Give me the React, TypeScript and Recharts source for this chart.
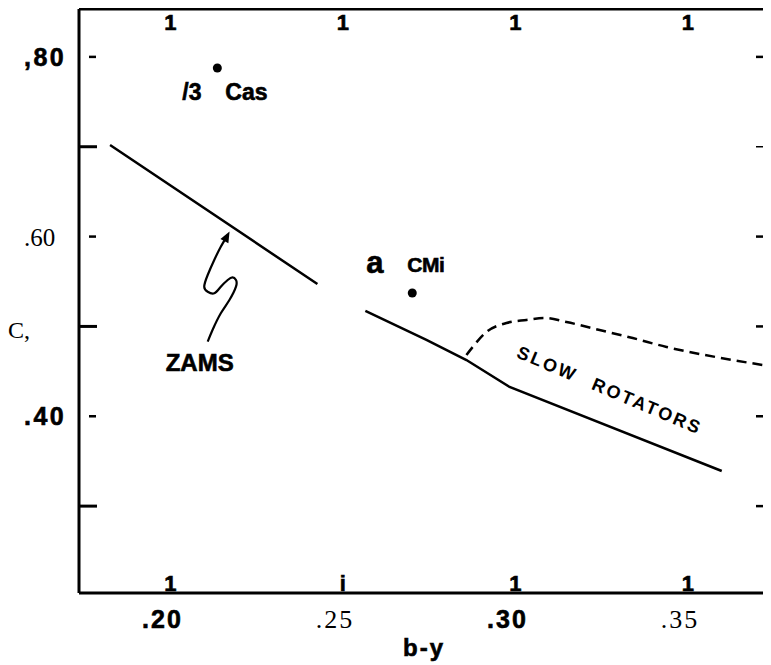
import React from "react";
import {
  ComposedChart,
  Line,
  Scatter,
  XAxis,
  YAxis,
  ReferenceDot,
  ReferenceLine,
} from "recharts";

// ---- axis ticks ----
const xTicks = [0.2, 0.25, 0.3, 0.35];
const xTickLabels = [".20", ".25", ".30", ".35"];
const xTopMarks = ["1", "1", "1", "1"];
const xBottomMarks = ["1", "i", "1", "1"];
const yTicks = [0.3, 0.4, 0.5, 0.6, 0.7, 0.8];
const yTickLabels = ["", ".40", "", ".60", "", ",80"];
const xDomain = [0.1735, 0.3735];
const yDomain = [0.2033, 0.8533];

// ---- ZAMS (solid, with a gap) ----
const zamsX = [0.1825, 0.2426, 0.2495, 0.2565, 0.2742, 0.2858, 0.2983, 0.3598];
const zamsY: (number | null)[] = [0.7019, 0.5472, null, 0.5172, 0.4849, 0.4626, 0.4326, 0.3391];

// ---- slow rotators (dashed) ----
const slowX = [0.2858, 0.2876, 0.2916, 0.2974, 0.3032, 0.3084, 0.3148, 0.3244, 0.334, 0.3438, 0.3534, 0.363, 0.3716];
const slowY = [0.4682, 0.4771, 0.4938, 0.5038, 0.5072, 0.5094, 0.5049, 0.496, 0.4871, 0.4771, 0.4693, 0.4626, 0.4571];

// ---- squiggle arrow pointing at ZAMS ----
const arrowX = [0.2108, 0.2122, 0.2146, 0.2171, 0.219, 0.219, 0.218, 0.2166, 0.2146, 0.2127, 0.2108, 0.2098, 0.2108, 0.2127, 0.2146, 0.2166];
const arrowY = [0.483, 0.496, 0.5146, 0.5294, 0.5442, 0.5517, 0.5547, 0.5517, 0.5442, 0.5369, 0.5386, 0.5442, 0.5572, 0.5739, 0.5887, 0.6017];

// ---- stars ----
const starX = [0.2136, 0.2701];
const starY = [0.7876, 0.5372];

const zamsData = zamsX.map((x, i) => ({ x, y: zamsY[i] }));
const slowData = slowX.map((x, i) => ({ x, y: slowY[i] }));
const arrowData = arrowX.map((x, i) => ({ x, y: arrowY[i] }));
const starData = starX.map((x, i) => ({ x, y: starY[i] }));

const SANS = "'Liberation Sans', Arial, Helvetica, sans-serif";
const SERIF = "'Liberation Serif', 'Times New Roman', serif";
const HEAVY = { stroke: "#000", strokeWidth: 0.6 };

const BottomTick = (p: any) => {
  const i = p.index;
  const bold = i % 2 === 0;
  return (
    <g>
      <text x={p.x} y={p.y - 2} textAnchor="middle" fontFamily={SANS} fontWeight="bold" fontSize={22} fill="#000" {...HEAVY}>
        {xBottomMarks[i]}
      </text>
      <text
        x={p.x - 8}
        y={p.y + 35}
        textAnchor="middle"
        fontFamily={bold ? SANS : SERIF}
        fontWeight={bold ? "bold" : "normal"}
        fontSize={bold ? 25 : 26}
        letterSpacing={2}
        fill="#000"
        {...(bold ? HEAVY : {})}
      >
        {xTickLabels[i]}
      </text>
    </g>
  );
};

const TopTick = (p: any) => (
  <text x={p.x} y={p.y + 21} textAnchor="middle" fontFamily={SANS} fontWeight="bold" fontSize={22} fill="#000" {...HEAVY}>
    {xTopMarks[p.index]}
  </text>
);

const LeftTick = (p: any) => {
  const i = p.index;
  const label = yTickLabels[i];
  if (!label) {
    return <line x1={p.x} x2={p.x + 18} y1={p.y} y2={p.y} stroke="#000" strokeWidth={3} />;
  }
  const serif = label === ".60";
  return (
    <g>
      <line x1={p.x + 10} x2={p.x + 17} y1={p.y} y2={p.y} stroke="#000" strokeWidth={2.5} />
      <text
        x={p.x - 55}
        y={p.y + 9}
        textAnchor="start"
        fontFamily={serif ? SERIF : SANS}
        fontWeight={serif ? "normal" : "bold"}
        fontSize={serif ? 25 : 25}
        letterSpacing={serif ? 0 : 2.5}
        fill="#000"
        {...(serif ? {} : HEAVY)}
      >
        {label}
      </text>
    </g>
  );
};

const RightTick = (p: any) => (
  <line x1={p.x - 13} x2={p.x} y1={p.y} y2={p.y} stroke="#000" strokeWidth={p.index === 4 ? 1.5 : 2.5} />
);

const ArrowDot = (p: any) => {
  if (p.index !== arrowX.length - 1) return <g key={`d${p.index}`} />;
  return (
    <path
      key={`d${p.index}`}
      d="M4,0 L-7,-4.5 L-7,4.5 Z"
      transform={`translate(${p.cx},${p.cy}) rotate(-62)`}
      fill="#000"
    />
  );
};

const StarDot = (p: any) => <circle cx={p.cx} cy={p.cy} r={4.5} fill="#000" />;

export default function App() {
  return (
    <ComposedChart
      width={763}
      height={657}
      margin={{ top: 0, right: 0, bottom: 0, left: 0 }}
      style={{ background: "#fff" }}
    >
      <XAxis
        dataKey="x"
        type="number"
        domain={xDomain}
        ticks={xTicks}
        allowDataOverflow
        height={72}
        tickSize={0}
        tickMargin={0}
        tickLine={false}
        axisLine={{ stroke: "#000", strokeWidth: 3 }}
        tick={<BottomTick />}
        interval={0}
        label={(props: any) => {
          const vb = props.viewBox || {};
          return (
            <text
              x={vb.x + vb.width / 2}
              y={vb.y + 63}
              textAnchor="middle"
              fontFamily={SANS}
              fontWeight="bold"
              fontSize={24}
              letterSpacing={2}
              fill="#000"
              {...HEAVY}
            >
              b-y
            </text>
          );
        }}
      />
      <XAxis
        xAxisId="top"
        orientation="top"
        dataKey="x"
        type="number"
        domain={xDomain}
        ticks={xTicks}
        allowDataOverflow
        height={1}
        tickSize={0}
        tickMargin={0}
        tickLine={false}
        axisLine={{ stroke: "#000", strokeWidth: 3 }}
        tick={<TopTick />}
        interval={0}
      />
      <YAxis
        type="number"
        domain={yDomain}
        ticks={yTicks}
        allowDataOverflow
        width={71}
        tickSize={0}
        tickMargin={0}
        tickLine={false}
        axisLine={{ stroke: "#000", strokeWidth: 3 }}
        tick={<LeftTick />}
        interval={0}
        label={(props: any) => {
          const vb = props.viewBox || {};
          return (
            <text x={vb.x} y={vb.y + 329} fontFamily={SERIF} fontSize={24} fill="#000">
              C,
            </text>
          );
        }}
      />
      <YAxis
        yAxisId="r"
        orientation="right"
        type="number"
        domain={yDomain}
        ticks={yTicks}
        allowDataOverflow
        width={2}
        tickSize={0}
        tickMargin={0}
        tickLine={false}
        axisLine={false}
        tick={<RightTick />}
        interval={0}
      />
      <ReferenceLine
        segment={[
          { x: xDomain[1], y: yDomain[0] },
          { x: xDomain[1], y: 0.2378 },
        ]}
        stroke="#000"
        strokeWidth={2.5}
        ifOverflow="visible"
      />
      <Line
        data={zamsData}
        dataKey="y"
        type="linear"
        stroke="#000"
        strokeWidth={2.5}
        dot={false}
        activeDot={false}
        connectNulls={false}
        isAnimationActive={false}
      />
      <Line
        data={slowData}
        dataKey="y"
        type="monotone"
        stroke="#000"
        strokeWidth={2.5}
        strokeDasharray="10 6"
        dot={false}
        activeDot={false}
        isAnimationActive={false}
      />
      <Line
        data={arrowData}
        dataKey="y"
        type="natural"
        stroke="#000"
        strokeWidth={2.2}
        dot={ArrowDot}
        activeDot={false}
        isAnimationActive={false}
      />
      <Scatter data={starData} dataKey="y" shape={StarDot} isAnimationActive={false} />

      <ReferenceDot
        x={starX[0]}
        y={starY[0]}
        r={0}
        shape={(p: any) => (
          <g>
            <text x={p.cx - 35} y={p.cy + 32} fontFamily={SANS} fontWeight="bold" fontSize={23} fill="#000" {...HEAVY}>
              /3
            </text>
            <text x={p.cx + 8} y={p.cy + 32} fontFamily={SANS} fontWeight="bold" fontSize={23} fill="#000" {...HEAVY}>
              Cas
            </text>
          </g>
        )}
      />
      <ReferenceDot
        x={starX[1]}
        y={starY[1]}
        r={0}
        shape={(p: any) => (
          <g>
            <text x={p.cx - 46} y={p.cy - 20} fontFamily={SANS} fontWeight="bold" fontSize={31} fill="#000" {...HEAVY}>
              a
            </text>
            <text x={p.cx - 5} y={p.cy - 21} fontFamily={SANS} fontWeight="bold" fontSize={21} letterSpacing={-0.5} fill="#000" {...HEAVY}>
              CMi
            </text>
          </g>
        )}
      />
      <ReferenceDot
        x={arrowX[0]}
        y={arrowY[0]}
        r={0}
        shape={(p: any) => (
          <text x={p.cx - 8} y={p.cy + 29} textAnchor="middle" fontFamily={SANS} fontWeight="bold" fontSize={24} fill="#000" {...HEAVY}>
            ZAMS
          </text>
        )}
      />
      <ReferenceDot
        x={0.3272}
        y={0.4275}
        r={0}
        shape={(p: any) => (
          <text
            x={p.cx}
            y={p.cy}
            textAnchor="middle"
            dominantBaseline="middle"
            transform={`rotate(23 ${p.cx} ${p.cy})`}
            fontFamily={SANS}
            fontWeight="bold"
            fontSize={18}
            letterSpacing={2.5}
            wordSpacing={10}
            fill="#000"
          >
            SLOW ROTATORS
          </text>
        )}
      />
    </ComposedChart>
  );
}
